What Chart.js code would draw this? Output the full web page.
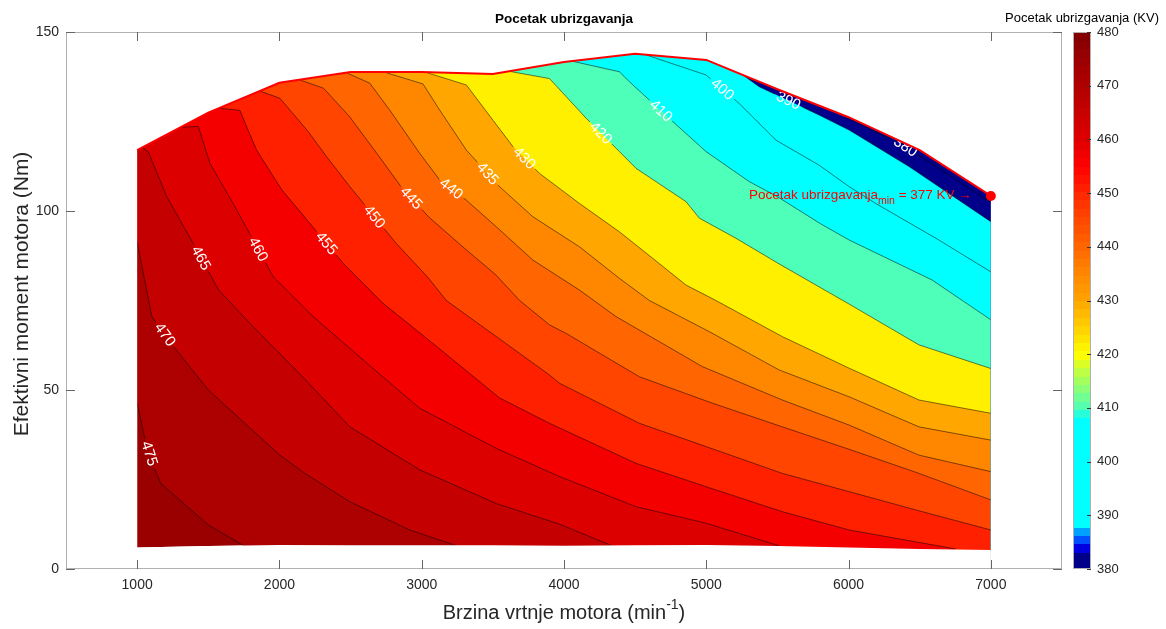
<!DOCTYPE html>
<html><head><meta charset="utf-8"><title>Pocetak ubrizgavanja</title>
<script src="https://cdn.jsdelivr.net/npm/chart.js@4.4.1/dist/chart.umd.min.js"></script>
<style>html,body{margin:0;padding:0;background:#fff;overflow:hidden}canvas{display:block}</style>
</head><body>
<canvas id="chart" width="1166" height="629"></canvas>
<script>
// ---------------- data ----------------
const speeds         = [1000,1500,2000,2500,3000,3500,4000,4500,5000,5500,6000,6500,7000];
const envelopeTorque = [117,127.5,135.8,138.8,138.8,138.3,141.6,143.9,142.2,134,126.2,117,104.2];
const minTorque      = [6,6.4,6.7,6.6,6.6,6.6,6.5,6.6,6.7,6.4,6.0,5.6,5.3];
const minPoint = {speed: 7000, torque: 104.2, value: 377};

const levels = [475,470,465,460,455,450,445,440,435,430,420,410,400,390,380];
const c475 = [[1000,46.3],[1056,36],[1115,28.6],[1166,23.9],[1500,12.3],[1750,6.5]];
const c470 = [[1000,91.4],[1103,70.5],[1267,61.6],[1500,50],[2003,31.8],[2179,26.7],[2495,18.8],[2916,10.9],[3243,6.5]];
const c465 = [[1040,117.6],[1080,116.4],[1208,104],[1407,90],[1571,78],[1793,68.6],[2150,54.2],[2495,39.7],[2986,27.7],[3524,18.3],[3970,12.5],[4331,6.6]];
const c460 = [[1300,123.4],[1430,123.6],[1512,113.3],[1676,102],[1957,81.6],[2237,70.5],[2635,56.8],[2986,44.9],[3524,33.7],[3970,25.8],[4507,17.4],[4998,12.8],[5512,6.5]];
const c455 = [[1560,128.8],[1723,128.1],[1770,123.5],[1840,117],[2015,106],[2448,85.4],[2728,74.2],[3079,63],[3547,47.8],[3898,40.7],[4507,29.5],[4998,23],[5535,16],[6004,10.9],[6752,5.6]];
const c450 = [[1863,133.5],[2003,131.5],[2200,122.3],[2331,115.2],[2495,106.8],[2820,91],[3040,81.6],[3173,75],[3898,54.2],[3968,51.9],[4530,40.7],[4998,34.2],[5535,26.7],[6051,21.1],[6472,16.5],[7000,10.9]];
const c445 = [[2144,136.6],[2310,134.3],[2490,126.5],[2705,115],[2860,106.5],[3050,98.3],[3300,89.6],[3520,82.2],[3688,75],[3898,68.2],[4015,65.8],[4530,53.7],[5044,46.3],[5535,39.7],[6051,32.8],[6495,26.7],[7000,19.3]];
const c440 = [[2472,138.6],[2635,135.7],[2775,128.2],[2986,116.1],[3126,108.7],[3314,103],[3524,95.6],[3781,86.3],[4109,77.9],[4366,70.5],[4974,56.5],[5535,47.2],[6004,40.2],[6495,31.8],[7000,27.2]];
const c435 = [[2752,138.6],[3009,135.5],[3126,128.2],[3314,117],[3547,106.8],[3781,98.4],[4109,90],[4389,81.2],[4600,75],[5021,66.3],[5512,55.6],[6004,48.1],[6495,39.7],[7000,36]];
const c430 = [[3033,138.7],[3314,135.2],[3500,125.4],[3641,118],[3828,110.5],[4109,102.1],[4389,94.2],[4623,86.8],[4858,79.3],[5068,75],[5535,64.9],[6004,56.1],[6495,47.2],[7000,43.5]];
const c420 = [[3618,139],[3898,137],[4156,125.9],[4389,116.6],[4507,111.9],[4858,102.6],[4951,98],[5208,92.4],[5500,85.5],[6004,74],[6495,62.6],[7000,56]];
const c410 = [[4062,141.8],[4389,138.9],[4460,136.1],[4764,125],[4998,116.6],[5302,108.2],[5500,104],[5800,96.5],[6004,91.9],[6588,80.7],[7000,69.6]];
const c400 = [[4577,143.6],[4998,138],[5232,130],[5489,119.8],[5793,112.8],[6004,106.8],[6191,102.1],[6630,92],[7000,83]];
const c390 = [[5250,138.2],[5372,134.7],[5793,126.8],[6004,122.6],[6425,112.4],[7000,97]];
const c380 = [[5900,127.9],[6400,118],[7000,102.4]];
const contourLines = [c475,c470,c465,c460,c455,c450,c445,c440,c435,c430,c420,c410,c400,c390,c380];
const labelSpeeds  = [1086,1196,1450,1851,2331,2668,2927,3208,3464,3721,4259,4682,5114,5578,6401];

const xTicks  = [1000,2000,3000,4000,5000,6000,7000];
const yTicks  = [0,50,100,150];
const cbTicks = [380,390,400,410,420,430,440,450,460,470,480];

// ---------------- styles ----------------
const FONT = '"Liberation Sans", Arial, Helvetica, sans-serif';
const topBandColor = '#9b0000';
const bandBelow = ['#ad0000','#c50000','#dc0000','#f40000','#ff2000','#ff4500','#ff6500','#ff8700','#ffa600','#fff000','#4dffb8','#00ffff','#00ffff','#00008a','#00008a'];
const cbStops = [[380,'#000088'],[382.6,'#000088'],[382.61,'#0000e0'],[384.4,'#0000e0'],[384.41,'#0050ff'],[386.2,'#0050ff'],[386.21,'#00a0ff'],[387.7,'#00a0ff'],[387.71,'#00ffff'],[407.8,'#00ffff'],[410,'#4dffb8'],[413,'#80ff80'],[417,'#c0ff40'],[420,'#ffff00'],[425,'#ffd000'],[430,'#ffa500'],[435,'#ff8800'],[440,'#ff6600'],[445,'#ff4800'],[450,'#ff2800'],[455,'#ff0000'],[460,'#e00000'],[465,'#c80000'],[470,'#b00000'],[475,'#9b0000'],[480,'#800000']];
const AXC = '#b0b0b0', TICKC = '#666666', TXT = '#262626';
const LABEL_PX = 15;

// layout constants (chart area 66..1062 x 32..569)
const PXX = 996/7000, PXY = 537/150;

// ---------------- helpers ----------------
function splitAt(pts, lx, half){
  const q = pts.map(p=>[p[0]*PXX, -p[1]*PXY]);
  const s=[0];
  for(let i=1;i<q.length;i++) s.push(s[i-1]+Math.hypot(q[i][0]-q[i-1][0], q[i][1]-q[i-1][1]));
  let k=0; while(k<pts.length-2 && pts[k+1][0]<lx) k++;
  const t=(lx-pts[k][0])/(pts[k+1][0]-pts[k][0]);
  const sc=s[k]+t*(s[k+1]-s[k]);
  const at=sv=>{ let j=0; while(j<pts.length-2 && s[j+1]<sv) j++; const u=(sv-s[j])/((s[j+1]-s[j])||1);
    return [pts[j][0]+u*(pts[j+1][0]-pts[j][0]), pts[j][1]+u*(pts[j+1][1]-pts[j][1])]; };
  const a=Math.max(0,sc-half), b=Math.min(s[s.length-1], sc+half);
  const A=[], B=[];
  pts.forEach((p,i)=>{ if(s[i]<a) A.push(p); }); A.push(at(a));
  B.push(at(b)); pts.forEach((p,i)=>{ if(s[i]>b) B.push(p); });
  return {A, B, center: at(sc), seg: [pts[k], pts[k+1]]};
}
const pts2xy = pts => pts.map(p=>({x:p[0], y:p[1]}));
function hex2rgb(h){ return [parseInt(h.slice(1,3),16),parseInt(h.slice(3,5),16),parseInt(h.slice(5,7),16)]; }
function cmap(v){
  for(let i=0;i<cbStops.length-1;i++){
    const [v0,c0]=cbStops[i],[v1,c1]=cbStops[i+1];
    if(v<=v1){ const u=Math.max(0,Math.min(1,(v-v0)/(v1-v0))); const a=hex2rgb(c0),b=hex2rgb(c1);
      return 'rgb('+a.map((x,j)=>Math.round(x+u*(b[j]-x))).join(',')+')'; }
  }
  return cbStops[cbStops.length-1][1];
}

// ---------------- datasets ----------------
const datasets=[]; let layer=0;
function add(ds){ ds.order=-(layer++); ds.pointRadius = ds.pointRadius||0; ds.tension=0; datasets.push(ds); return datasets.length-1; }
const topPts = speeds.map((s,i)=>[s, envelopeTorque[i]]);
const botPts = speeds.map((s,i)=>[s, minTorque[i]]);

add({data: pts2xy(botPts.concat(topPts.slice().reverse())), fill:'shape', backgroundColor: topBandColor, borderWidth:0});
contourLines.forEach((c,i)=>{
  const f=c[0], l=c[c.length-1];
  const poly=c.concat([[l[0],-100],[9000,-100],[9000,400],[f[0],400]]);
  add({data: pts2xy(poly), fill:'shape', backgroundColor: bandBelow[i], borderWidth:0});
});
const labelInfo=[]; let lastLineIdx=-1;
const halfGap = LABEL_PX*0.556*1.5 + 3;
contourLines.forEach((c,i)=>{
  const sp=splitAt(c, labelSpeeds[i], halfGap);
  labelInfo.push({text:String(levels[i]), center:sp.center, seg:sp.seg});
  add({data: pts2xy(sp.A), fill:false, borderColor:'rgba(0,0,0,0.85)', borderWidth:0.6});
  lastLineIdx = add({data: pts2xy(sp.B), fill:false, borderColor:'rgba(0,0,0,0.85)', borderWidth:0.6});
});
add({data: pts2xy(topPts.concat([[7000,-100],[9000,-100],[9000,400],[-1000,400],[-1000,-100],[1000,-100]])), fill:'shape', backgroundColor:'#ffffff', borderWidth:0});
add({data: pts2xy(botPts.concat([[7000,-100],[1000,-100]])), fill:'shape', backgroundColor:'#ffffff', borderWidth:0});
add({data: pts2xy(topPts), fill:false, borderColor:'#ff0000', borderWidth:2});
add({data: [{x:minPoint.speed, y:minPoint.torque}], showLine:false, pointRadius:5, pointBackgroundColor:'#ff0000', pointBorderWidth:0, borderWidth:0});

// ---------------- plugins ----------------
const labelPlugin = {
  id:'contourLabels',
  afterDatasetDraw(chart, args){
    if(args.index!==lastLineIdx) return;
    const {ctx, scales:{x,y}}=chart;
    ctx.save();
    ctx.font=LABEL_PX+'px '+FONT; ctx.fillStyle='#ffffff'; ctx.textAlign='center'; ctx.textBaseline='middle';
    labelInfo.forEach(L=>{
      const cx=x.getPixelForValue(L.center[0]), cy=y.getPixelForValue(L.center[1]);
      const x1=x.getPixelForValue(L.seg[0][0]), y1=y.getPixelForValue(L.seg[0][1]);
      const x2=x.getPixelForValue(L.seg[1][0]), y2=y.getPixelForValue(L.seg[1][1]);
      let ang=Math.atan2(y2-y1, x2-x1);
      if(ang>Math.PI/2) ang-=Math.PI; if(ang<-Math.PI/2) ang+=Math.PI;
      ctx.save(); ctx.translate(cx,cy); ctx.rotate(ang); ctx.fillText(L.text,0,0.5); ctx.restore();
    });
    ctx.restore();
  }
};
const decorPlugin = {
  id:'decor',
  afterDraw(chart){
    const {ctx, chartArea:ca, scales:{x,y}}=chart;
    ctx.save();
    // axes box + inward ticks
    ctx.strokeStyle=AXC; ctx.lineWidth=1;
    ctx.strokeRect(ca.left+0.5, ca.top+0.5, ca.right-ca.left-1, ca.bottom-ca.top-1);
    const TL=9;
    ctx.strokeStyle=TICKC;
    ctx.beginPath();
    xTicks.forEach(v=>{ const p=Math.round(x.getPixelForValue(v))+0.5;
      ctx.moveTo(p,ca.bottom); ctx.lineTo(p,ca.bottom-TL); ctx.moveTo(p,ca.top); ctx.lineTo(p,ca.top+TL); });
    yTicks.forEach(v=>{ const p=Math.round(y.getPixelForValue(v))+0.5;
      ctx.moveTo(ca.left,p); ctx.lineTo(ca.left+TL,p); ctx.moveTo(ca.right,p); ctx.lineTo(ca.right-TL,p); });
    ctx.stroke();

    // title
    ctx.fillStyle='#000'; ctx.textAlign='center'; ctx.textBaseline='middle';
    ctx.font='bold 13.5px '+FONT;
    ctx.fillText('Pocetak ubrizgavanja', (ca.left+ca.right)/2, 19);

    // x title with superscript
    ctx.fillStyle=TXT; ctx.textAlign='left';
    const t1='Brzina vrtnje motora (min', t2='-1', t3=')';
    ctx.font='20px '+FONT; const w1=ctx.measureText(t1).width, w3=ctx.measureText(t3).width;
    ctx.font='14px '+FONT; const w2=ctx.measureText(t2).width;
    let sx=(ca.left+ca.right)/2 - (w1+w2+w3)/2; const ty=613;
    ctx.font='20px '+FONT; ctx.fillText(t1,sx,ty);
    ctx.font='14px '+FONT; ctx.fillText(t2,sx+w1,ty-8);
    ctx.font='20px '+FONT; ctx.fillText(t3,sx+w1+w2,ty);

    // y title
    ctx.save(); ctx.translate(22, 294); ctx.rotate(-Math.PI/2);
    ctx.textAlign='center'; ctx.font='21px '+FONT; ctx.fillText('Efektivni moment motora (Nm)',0,0);
    ctx.restore();

    // annotation
    const mpx=x.getPixelForValue(minPoint.speed), mpy=y.getPixelForValue(minPoint.torque);
    const a1='Pocetak ubrizgavanja', a2='min', a3=' = '+minPoint.value+' KV \u2192';
    ctx.fillStyle='#ff0000'; ctx.textAlign='left';
    ctx.font='13.5px '+FONT; const aw1=ctx.measureText(a1).width, aw3=ctx.measureText(a3).width;
    ctx.font='10.5px '+FONT; const aw2=ctx.measureText(a2).width;
    const ax0=mpx-19-(aw1+aw2+aw3);
    ctx.font='13.5px '+FONT; ctx.fillText(a1,ax0,mpy-1);
    ctx.font='10.5px '+FONT; ctx.fillText(a2,ax0+aw1,mpy+5);
    ctx.font='13.5px '+FONT; ctx.fillText(a3,ax0+aw1+aw2,mpy-1);

    // colorbar
    const cbL=ca.right+11, cbW=18, cbT=ca.top, cbB=ca.bottom;
    const vmin=380, vmax=480, nStep=64;
    const vp=v=>cbB-(v-vmin)/(vmax-vmin)*(cbB-cbT);
    for(let i=0;i<nStep;i++){
      const v0=vmin+i*(vmax-vmin)/nStep, v1=vmin+(i+1)*(vmax-vmin)/nStep;
      ctx.fillStyle=cmap((v0+v1)/2);
      const yt=vp(v1), yb=vp(v0);
      ctx.fillRect(cbL, Math.floor(yt), cbW, Math.ceil(yb)-Math.floor(yt));
    }
    ctx.strokeStyle=AXC; ctx.lineWidth=1; ctx.strokeRect(cbL+0.5, cbT+0.5, cbW-1, cbB-cbT-1);
    ctx.strokeStyle='#333'; ctx.beginPath();
    cbTicks.forEach(v=>{ const p=Math.round(vp(v))+0.5; ctx.moveTo(cbL+cbW,p); ctx.lineTo(cbL+cbW-4,p); });
    ctx.stroke();
    ctx.fillStyle=TXT; ctx.font='13px '+FONT; ctx.textAlign='left'; ctx.textBaseline='middle';
    cbTicks.forEach(v=>ctx.fillText(String(v), cbL+cbW+6, vp(v)));
    ctx.textAlign='center'; ctx.font='13px '+FONT; ctx.fillStyle='#000';
    ctx.fillText('Pocetak ubrizgavanja (KV)', cbL+cbW/2, 18);
    ctx.restore();
  }
};

// ---------------- chart ----------------
new Chart(document.getElementById('chart'), {
  type:'line',
  data:{datasets},
  options:{
    responsive:false, animation:false, events:[], devicePixelRatio:1,
    layout:{padding:{left:0,right:104,top:32,bottom:0}},
    plugins:{legend:{display:false}, tooltip:{enabled:false}, title:{display:false}, filler:{propagate:false}},
    elements:{line:{capBezierPoints:false}},
    scales:{
      x:{type:'linear', min:500, max:7500,
         afterFit(s){ s.height=60; },
         afterBuildTicks(s){ s.ticks=xTicks.map(v=>({value:v})); },
         grid:{display:false, drawTicks:false}, border:{display:false},
         ticks:{padding:8, color:TXT, font:{family:FONT, size:14}, maxRotation:0, autoSkip:false, callback:v=>String(v)}},
      y:{type:'linear', min:0, max:150,
         afterFit(s){ s.width=66; },
         afterBuildTicks(s){ s.ticks=yTicks.map(v=>({value:v})); },
         grid:{display:false, drawTicks:false}, border:{display:false},
         ticks:{padding:7, color:TXT, font:{family:FONT, size:14}, autoSkip:false, callback:v=>String(v)}}
    }
  },
  plugins:[labelPlugin, decorPlugin]
});
</script>
</body></html>
